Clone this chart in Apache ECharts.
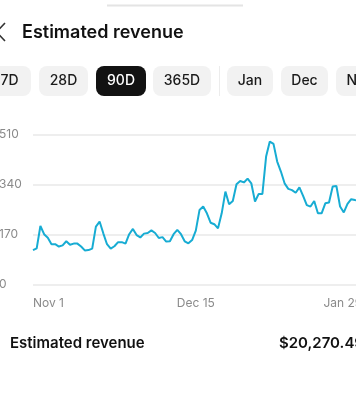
<!DOCTYPE html>
<html>
<head>
<meta charset="utf-8">
<script src="https://cdn.jsdelivr.net/npm/echarts@6/dist/echarts.min.js"></script>
<style>
html,body{margin:0;padding:0;background:#fff;overflow:hidden;width:356px;height:396px;position:relative;}
#chart{position:absolute;left:-12px;top:0;width:380px;height:396px;}
</style>
</head>
<body>
<div id="chart"></div>
<script>
// ---- data ----
var categories = [
 'Nov 1','Nov 2','Nov 3','Nov 4','Nov 5','Nov 6','Nov 7','Nov 8','Nov 9','Nov 10',
 'Nov 11','Nov 12','Nov 13','Nov 14','Nov 15','Nov 16','Nov 17','Nov 18','Nov 19','Nov 20',
 'Nov 21','Nov 22','Nov 23','Nov 24','Nov 25','Nov 26','Nov 27','Nov 28','Nov 29','Nov 30',
 'Dec 1','Dec 2','Dec 3','Dec 4','Dec 5','Dec 6','Dec 7','Dec 8','Dec 9','Dec 10',
 'Dec 11','Dec 12','Dec 13','Dec 14','Dec 15','Dec 16','Dec 17','Dec 18','Dec 19','Dec 20',
 'Dec 21','Dec 22','Dec 23','Dec 24','Dec 25','Dec 26','Dec 27','Dec 28','Dec 29','Dec 30',
 'Dec 31','Jan 1','Jan 2','Jan 3','Jan 4','Jan 5','Jan 6','Jan 7','Jan 8','Jan 9',
 'Jan 10','Jan 11','Jan 12','Jan 13','Jan 14','Jan 15','Jan 16','Jan 17','Jan 18','Jan 19',
 'Jan 20','Jan 21','Jan 22','Jan 23','Jan 24','Jan 25','Jan 26','Jan 27','Jan 28','Jan 29'
];
var revenue = [
 117,123,199,171,159,137,137,129,133,147,
 135,139,139,129,116,117,122,197,214,174,
 137,122,130,144,144,139,171,189,168,160,
 173,175,184,175,158,161,146,147,171,186,
 171,147,140,151,183,253,265,242,210,205,
 191,242,316,273,284,341,352,347,360,344,
 282,308,308,435,486,478,418,384,344,325,
 321,312,330,301,270,265,284,242,242,276,
 279,333,335,265,245,274,290,287,285,280
];
var yTicks = [0,170,340,510];
var xTickLabels = ['Nov 1','Dec 15','Jan 29'];
var periodButtons = ['7D','28D','90D','365D'];
var monthButtons = ['Jan','Dec','Nov'];
var selectedPeriod = '90D';
var titleText = 'Estimated revenue';
var summaryLabel = 'Estimated revenue';
var summaryValue = '$20,270.49';

// ---- chart ----
var OX = 12; // chart canvas starts 12px left of the window
var chart = echarts.init(document.getElementById('chart'), null, {renderer:'canvas'});
var FONT = 'Inter, "Noto Sans", sans-serif';

function btn(label, x, w){
  var sel = label === selectedPeriod;
  return {
    type:'group', children:[
      {type:'rect', shape:{x:x + OX, y:66, width:w, height:30, r:8},
       style:{fill: sel ? '#121212' : '#f2f2f2'}},
      {type:'text', style:{text:label, x:x + OX + w/2, y:81, align:'center', verticalAlign:'middle',
        fontSize:14, fontWeight:500, fontFamily:FONT, fill: sel ? '#ffffff' : '#1a1a1a'}}
    ]
  };
}
var btnGeom = {'7D':[-12,43],'28D':[39,49],'90D':[96,50],'365D':[153,58],
               'Jan':[227,46],'Dec':[281,47],'Nov':[336,48]};
var graphics = [
  {type:'line', shape:{x1:107 + OX, y1:5.5, x2:243 + OX, y2:5.5}, style:{stroke:'#e4e4e4', lineWidth:2}},
  {type:'polyline', shape:{points:[[5 + OX,23],[-3.5 + OX,32],[5 + OX,41]]}, style:{stroke:'#333', lineWidth:1.6, fill:null}},
  {type:'text', style:{text:titleText, x:22 + OX, y:33, verticalAlign:'middle', fontSize:18, fontWeight:600, fontFamily:FONT, fill:'#111'}},
  {type:'line', shape:{x1:219.5 + OX, y1:66, x2:219.5 + OX, y2:96}, style:{stroke:'#ececec', lineWidth:1}},
  {type:'text', style:{text:summaryLabel, x:10 + OX, y:343, verticalAlign:'middle', fontSize:15, fontWeight:600, fontFamily:FONT, fill:'#111'}},
  {type:'text', style:{text:summaryValue, x:279 + OX, y:343, verticalAlign:'middle', fontSize:15, fontWeight:600, fontFamily:FONT, fill:'#111'}}
];
periodButtons.concat(monthButtons).forEach(function(b){
  graphics.push(btn(b, btnGeom[b][0], btnGeom[b][1]));
});

var option = {
  animation:false,
  backgroundColor:'#ffffff',
  grid:{left:33 + OX, right:380 - (362.3 + OX), top:134.5, bottom:111.5, containLabel:false},
  xAxis:{
    type:'category', data:categories, boundaryGap:false,
    axisLine:{show:false}, axisTick:{show:false}, splitLine:{show:false},
    axisLabel:{
      color:'#8a8a8a', fontSize:12, fontFamily:FONT, margin:13,
      interval:function(i, v){ return xTickLabels.indexOf(v) >= 0; },
      alignMinLabel:'left', alignMaxLabel:'right', hideOverlap:false
    }
  },
  yAxis:{
    type:'value', min:yTicks[0], max:yTicks[yTicks.length-1], interval:yTicks[1]-yTicks[0],
    axisLine:{show:false}, axisTick:{show:false},
    splitLine:{show:true, lineStyle:{color:'#e9e9e9', width:1.5}},
    axisLabel:{color:'#8a8a8a', fontSize:12, fontFamily:FONT, align:'left', margin:34}
  },
  series:[{
    type:'line', data:revenue, symbol:'none', smooth:false,
    lineStyle:{color:'#17acd3', width:2}
  }],
  graphic:graphics
};
chart.setOption(option);
</script>
</body>
</html>
